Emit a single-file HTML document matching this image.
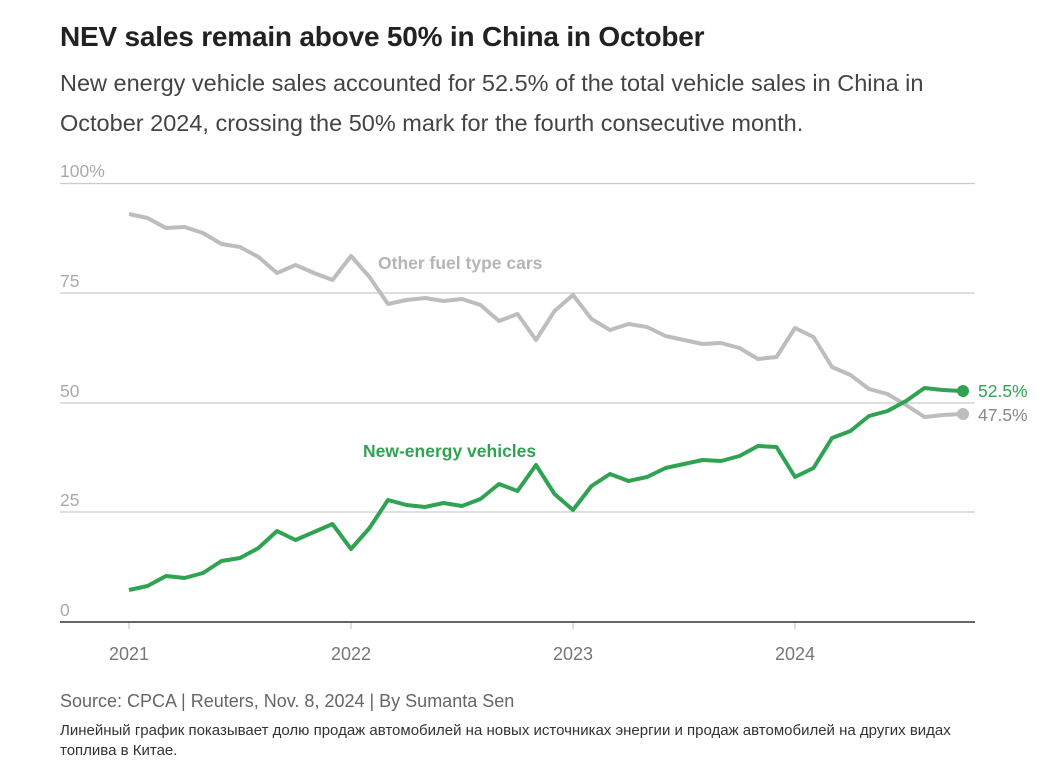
<!DOCTYPE html>
<html><head><meta charset="utf-8"><style>
body{margin:0;background:#fff;width:1054px;height:779px;overflow:hidden;font-family:"Liberation Sans",sans-serif;}
.t{position:absolute;left:60px;top:21px;font-size:28px;font-weight:bold;color:#222;letter-spacing:-0.2px}
.s{position:absolute;left:60px;top:63px;width:900px;font-size:23.5px;line-height:40px;color:#444}
.src{position:absolute;left:60px;top:691px;font-size:18px;color:#666}
.note{position:absolute;left:60px;top:721px;width:950px;font-size:15px;line-height:20px;color:#333}
svg{position:absolute;left:0;top:0}
</style></head><body>
<div class="t">NEV sales remain above 50% in China in October</div>
<div class="s">New energy vehicle sales accounted for 52.5% of the total vehicle sales in China in October 2024, crossing the 50% mark for the fourth consecutive month.</div>
<svg width="1054" height="779" font-family="Liberation Sans, sans-serif">
<g stroke="#ccc" stroke-width="1.3">
<line x1="60" x2="975" y1="183.5" y2="183.5"/><line x1="60" x2="975" y1="293" y2="293"/><line x1="60" x2="975" y1="403" y2="403"/><line x1="60" x2="975" y1="512" y2="512"/></g>
<line x1="60" x2="975" y1="622" y2="622" stroke="#333" stroke-width="1.5"/>
<g stroke="#bbb"><line x1="129" x2="129" y1="623" y2="629"/><line x1="351" x2="351" y1="623" y2="629"/><line x1="573" x2="573" y1="623" y2="629"/><line x1="795" x2="795" y1="623" y2="629"/></g>
<g fill="#aaa" font-size="17.5"><text x="60" y="177">100%</text><text x="60" y="287">75</text><text x="60" y="397">50</text><text x="60" y="506">25</text><text x="60" y="616">0</text></g>
<g fill="#777" font-size="18" text-anchor="middle"><text x="129" y="660">2021</text><text x="351" y="660">2022</text><text x="573" y="660">2023</text><text x="795" y="660">2024</text></g>
<polyline fill="none" stroke="#bdbdbd" stroke-width="4" stroke-linejoin="round" points="129,214 147.5,218 166,228 184.5,227 203,233 221.5,244 240,247 258.5,257 277,273 295.5,265 314,273 332.5,280 351,256 369.5,277 388,304 406.5,300 425,298 443.5,301 462,299 480.5,305 499,321 517.5,314 536,340 554.5,311 573,295 591.5,319 610,330 628.5,324 647,327 665.5,336 684,340 702.5,344 721,343 739.5,348 758,359 776.5,357 795,328 813.5,337 832,367 850.5,375 869,389 887.5,394 906,405 924.5,417 943,415 961.5,414"/>
<polyline fill="none" stroke="#2fa352" stroke-width="4" stroke-linejoin="round" points="129,590 147.5,586 166,576 184.5,578 203,573 221.5,561 240,558 258.5,548 277,531 295.5,540 314,532 332.5,524 351,549 369.5,528 388,500 406.5,505 425,507 443.5,503 462,506 480.5,499 499,484 517.5,491 536,465 554.5,494 573,510 591.5,486 610,474 628.5,481 647,477 665.5,468 684,464 702.5,460 721,461 739.5,456 758,446 776.5,447 795,477 813.5,468 832,438 850.5,431 869,416 887.5,411 906,401 924.5,388 943,390 961.5,391"/>
<circle cx="963" cy="414" r="6" fill="#bdbdbd"/><circle cx="963" cy="391" r="6" fill="#2fa352"/>
<text x="978" y="397" fill="#2fa352" font-size="17.5">52.5%</text>
<text x="978" y="421" fill="#888" font-size="17.5">47.5%</text>
<text x="378" y="269" fill="#b5b5b5" font-size="17.5" font-weight="bold">Other fuel type cars</text>
<text x="363" y="457" fill="#2fa352" font-size="17.5" font-weight="bold">New-energy vehicles</text>
</svg>
<div class="src">Source: CPCA | Reuters, Nov. 8, 2024 | By Sumanta Sen</div>
<div class="note">Линейный график показывает долю продаж автомобилей на новых источниках энергии и продаж автомобилей на других видах топлива в Китае.</div>
</body></html>
